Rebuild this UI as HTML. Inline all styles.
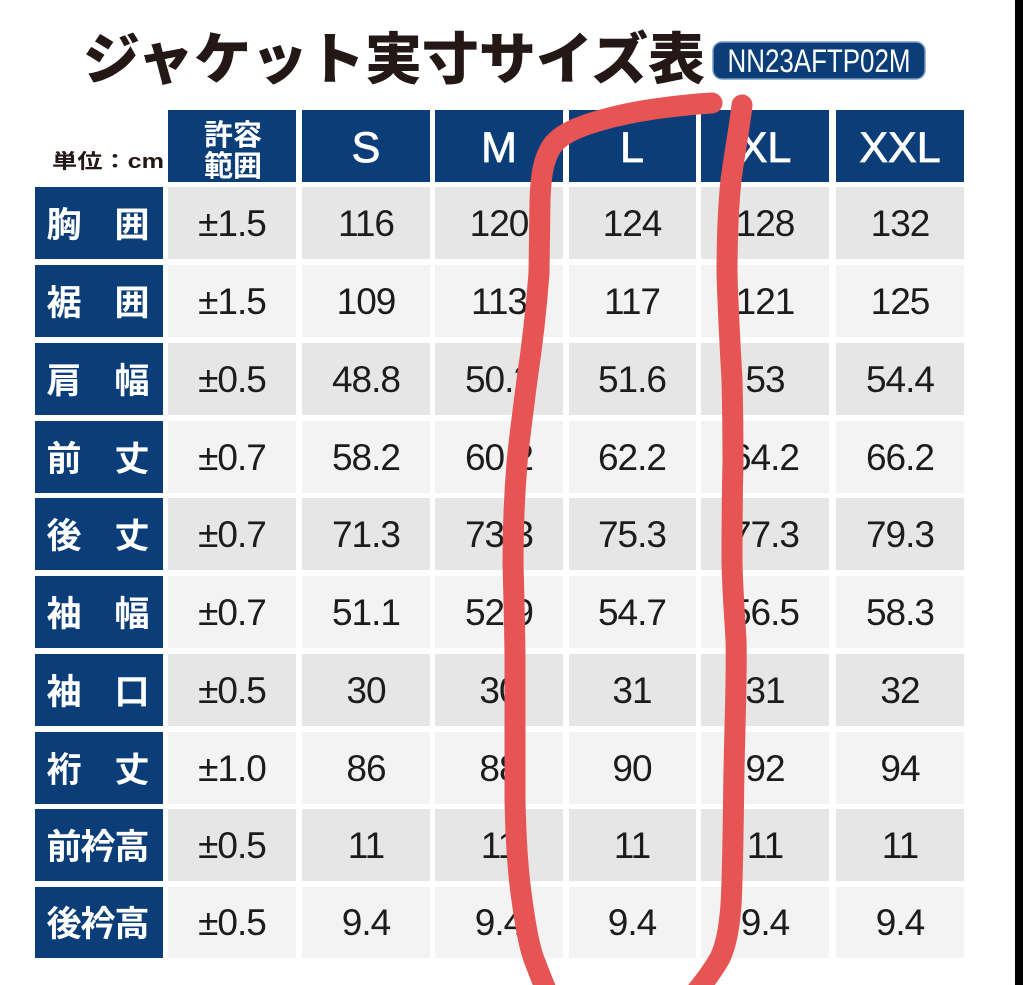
<!DOCTYPE html>
<html>
<head>
<meta charset="utf-8">
<style>
html,body{margin:0;padding:0;background:#fff;}
svg{display:block;}
.num{font-family:"Liberation Sans","Noto Sans CJK JP",sans-serif;font-size:37px;fill:#1c1c1c;text-anchor:middle;letter-spacing:-1px;}
.hd{font-family:"Liberation Sans",sans-serif;font-size:43px;fill:#fff;text-anchor:middle;stroke:#fff;stroke-width:0.8;}
.lab{font-family:"Liberation Sans","Noto Sans CJK JP",sans-serif;font-size:35px;font-weight:bold;fill:#fff;text-anchor:middle;}
</style>
</head>
<body>
<svg width="1023" height="985" viewBox="0 0 1023 985" xmlns="http://www.w3.org/2000/svg">
<rect x="0" y="0" width="1023" height="985" fill="#fff"/>
<rect x="1015" y="0" width="8" height="985" fill="#000"/>

<!-- Title -->
<text x="83" y="79" font-family="'Liberation Sans','Noto Sans CJK JP',sans-serif" font-size="56" font-weight="900" fill="#231815" textLength="622" lengthAdjust="spacingAndGlyphs">ジャケット実寸サイズ表</text>
<rect x="713" y="42" width="212" height="37" rx="9" fill="#0b3e78" stroke="#7d9cc4" stroke-width="1.5"/>
<text x="819" y="72" font-family="'Liberation Sans',sans-serif" font-size="32" fill="#fff" text-anchor="middle" textLength="183" lengthAdjust="spacingAndGlyphs">NN23AFTP02M</text>

<!-- Unit -->
<text x="52" y="168" font-family="'Liberation Sans','Noto Sans CJK JP',sans-serif" font-size="20" font-weight="bold" fill="#231815" textLength="112" lengthAdjust="spacingAndGlyphs">単位：cm</text>

<!-- Header cells -->
<g fill="#0b3e78">
<rect x="168" y="110" width="128" height="72"/>
<rect x="302" y="110" width="128" height="72"/>
<rect x="435" y="110" width="128" height="72"/>
<rect x="569" y="110" width="127" height="72"/>
<rect x="701" y="110" width="128" height="72"/>
<rect x="836" y="110" width="128" height="72"/>
</g>
<text x="233" y="145" class="lab" font-size="29" style="font-size:29px">許容</text>
<text x="233" y="176" class="lab" style="font-size:29px">範囲</text>
<text x="366" y="162" class="hd">S</text>
<text x="499" y="162" class="hd">M</text>
<text x="632" y="162" class="hd">L</text>
<text x="765" y="162" class="hd">XL</text>
<text x="900" y="162" class="hd">XXL</text>

<!-- Body rows -->
<g id="rows">
<!-- row 0 y=187 -->
<rect x="35" y="187" width="128" height="72" fill="#0b3e78"/>
<g fill="#e6e6e6"><rect x="168" y="187" width="128" height="72"/><rect x="302" y="187" width="128" height="72"/><rect x="435" y="187" width="128" height="72"/><rect x="569" y="187" width="127" height="72"/><rect x="701" y="187" width="128" height="72"/><rect x="836" y="187" width="128" height="72"/></g>
<!-- row 1 y=265 -->
<rect x="35" y="265" width="128" height="72" fill="#0b3e78"/>
<g fill="#f3f3f3"><rect x="168" y="265" width="128" height="72"/><rect x="302" y="265" width="128" height="72"/><rect x="435" y="265" width="128" height="72"/><rect x="569" y="265" width="127" height="72"/><rect x="701" y="265" width="128" height="72"/><rect x="836" y="265" width="128" height="72"/></g>
<!-- row 2 y=343 -->
<rect x="35" y="343" width="128" height="72" fill="#0b3e78"/>
<g fill="#e6e6e6"><rect x="168" y="343" width="128" height="72"/><rect x="302" y="343" width="128" height="72"/><rect x="435" y="343" width="128" height="72"/><rect x="569" y="343" width="127" height="72"/><rect x="701" y="343" width="128" height="72"/><rect x="836" y="343" width="128" height="72"/></g>
<!-- row 3 y=421 -->
<rect x="35" y="421" width="128" height="72" fill="#0b3e78"/>
<g fill="#f3f3f3"><rect x="168" y="421" width="128" height="72"/><rect x="302" y="421" width="128" height="72"/><rect x="435" y="421" width="128" height="72"/><rect x="569" y="421" width="127" height="72"/><rect x="701" y="421" width="128" height="72"/><rect x="836" y="421" width="128" height="72"/></g>
<!-- row 4 y=498 -->
<rect x="35" y="498" width="128" height="72" fill="#0b3e78"/>
<g fill="#e6e6e6"><rect x="168" y="498" width="128" height="72"/><rect x="302" y="498" width="128" height="72"/><rect x="435" y="498" width="128" height="72"/><rect x="569" y="498" width="127" height="72"/><rect x="701" y="498" width="128" height="72"/><rect x="836" y="498" width="128" height="72"/></g>
<!-- row 5 y=576 -->
<rect x="35" y="576" width="128" height="72" fill="#0b3e78"/>
<g fill="#f3f3f3"><rect x="168" y="576" width="128" height="72"/><rect x="302" y="576" width="128" height="72"/><rect x="435" y="576" width="128" height="72"/><rect x="569" y="576" width="127" height="72"/><rect x="701" y="576" width="128" height="72"/><rect x="836" y="576" width="128" height="72"/></g>
<!-- row 6 y=654 -->
<rect x="35" y="654" width="128" height="72" fill="#0b3e78"/>
<g fill="#e6e6e6"><rect x="168" y="654" width="128" height="72"/><rect x="302" y="654" width="128" height="72"/><rect x="435" y="654" width="128" height="72"/><rect x="569" y="654" width="127" height="72"/><rect x="701" y="654" width="128" height="72"/><rect x="836" y="654" width="128" height="72"/></g>
<!-- row 7 y=732 -->
<rect x="35" y="732" width="128" height="72" fill="#0b3e78"/>
<g fill="#f3f3f3"><rect x="168" y="732" width="128" height="72"/><rect x="302" y="732" width="128" height="72"/><rect x="435" y="732" width="128" height="72"/><rect x="569" y="732" width="127" height="72"/><rect x="701" y="732" width="128" height="72"/><rect x="836" y="732" width="128" height="72"/></g>
<!-- row 8 y=809 -->
<rect x="35" y="809" width="128" height="72" fill="#0b3e78"/>
<g fill="#e6e6e6"><rect x="168" y="809" width="128" height="72"/><rect x="302" y="809" width="128" height="72"/><rect x="435" y="809" width="128" height="72"/><rect x="569" y="809" width="127" height="72"/><rect x="701" y="809" width="128" height="72"/><rect x="836" y="809" width="128" height="72"/></g>
<!-- row 9 y=887 -->
<rect x="35" y="887" width="128" height="71" fill="#0b3e78"/>
<g fill="#f3f3f3"><rect x="168" y="887" width="128" height="71"/><rect x="302" y="887" width="128" height="71"/><rect x="435" y="887" width="128" height="71"/><rect x="569" y="887" width="127" height="71"/><rect x="701" y="887" width="128" height="71"/><rect x="836" y="887" width="128" height="71"/></g>
</g>

<!-- Row labels -->
<g class="lab">
<text x="64" y="237" class="lab">胸</text><text x="132" y="237" class="lab">囲</text>
<text x="64" y="315" class="lab">裾</text><text x="132" y="315" class="lab">囲</text>
<text x="64" y="393" class="lab">肩</text><text x="132" y="393" class="lab">幅</text>
<text x="64" y="471" class="lab">前</text><text x="132" y="471" class="lab">丈</text>
<text x="64" y="548" class="lab">後</text><text x="132" y="548" class="lab">丈</text>
<text x="64" y="626" class="lab">袖</text><text x="132" y="626" class="lab">幅</text>
<text x="64" y="704" class="lab">袖</text><text x="132" y="704" class="lab">口</text>
<text x="64" y="782" class="lab">裄</text><text x="132" y="782" class="lab">丈</text>
<text x="64" y="859" class="lab">前</text><text x="98" y="859" class="lab">衿</text><text x="132" y="859" class="lab">高</text>
<text x="64" y="936" class="lab">後</text><text x="98" y="936" class="lab">衿</text><text x="132" y="936" class="lab">高</text>
</g>

<!-- Numbers -->
<g>
<text class="num" x="232" y="236">±1.5</text><text class="num" x="366" y="236">116</text><text class="num" x="499" y="236">120</text><text class="num" x="632" y="236">124</text><text class="num" x="765" y="236">128</text><text class="num" x="900" y="236">132</text>
<text class="num" x="232" y="314">±1.5</text><text class="num" x="366" y="314">109</text><text class="num" x="499" y="314">113</text><text class="num" x="632" y="314">117</text><text class="num" x="765" y="314">121</text><text class="num" x="900" y="314">125</text>
<text class="num" x="232" y="392">±0.5</text><text class="num" x="366" y="392">48.8</text><text class="num" x="499" y="392">50.2</text><text class="num" x="632" y="392">51.6</text><text class="num" x="765" y="392">53</text><text class="num" x="900" y="392">54.4</text>
<text class="num" x="232" y="470">±0.7</text><text class="num" x="366" y="470">58.2</text><text class="num" x="499" y="470">60.2</text><text class="num" x="632" y="470">62.2</text><text class="num" x="765" y="470">64.2</text><text class="num" x="900" y="470">66.2</text>
<text class="num" x="232" y="547">±0.7</text><text class="num" x="366" y="547">71.3</text><text class="num" x="499" y="547">73.3</text><text class="num" x="632" y="547">75.3</text><text class="num" x="765" y="547">77.3</text><text class="num" x="900" y="547">79.3</text>
<text class="num" x="232" y="625">±0.7</text><text class="num" x="366" y="625">51.1</text><text class="num" x="499" y="625">52.9</text><text class="num" x="632" y="625">54.7</text><text class="num" x="765" y="625">56.5</text><text class="num" x="900" y="625">58.3</text>
<text class="num" x="232" y="703">±0.5</text><text class="num" x="366" y="703">30</text><text class="num" x="499" y="703">30</text><text class="num" x="632" y="703">31</text><text class="num" x="765" y="703">31</text><text class="num" x="900" y="703">32</text>
<text class="num" x="232" y="781">±1.0</text><text class="num" x="366" y="781">86</text><text class="num" x="499" y="781">88</text><text class="num" x="632" y="781">90</text><text class="num" x="765" y="781">92</text><text class="num" x="900" y="781">94</text>
<text class="num" x="232" y="858">±0.5</text><text class="num" x="366" y="858">11</text><text class="num" x="499" y="858">11</text><text class="num" x="632" y="858">11</text><text class="num" x="765" y="858">11</text><text class="num" x="900" y="858">11</text>
<text class="num" x="232" y="935">±0.5</text><text class="num" x="366" y="935">9.4</text><text class="num" x="499" y="935">9.4</text><text class="num" x="632" y="935">9.4</text><text class="num" x="765" y="935">9.4</text><text class="num" x="900" y="935">9.4</text>
</g>

<!-- Red marker loop -->
<g fill="none" stroke="#e65454" stroke-width="21" stroke-linecap="round" stroke-linejoin="round">
<path d="M712,103 C680,105 640,110 613,117 C585,124 562,132 552,146 C543,160 541,175 540,200 L539,273 C537,300 533,340 527,380 C522,420 519,440 517,463 C514,500 513,540 513,563 C514,600 515,640 515,663 L515,800 C516,850 519,880 522,900 C526,930 530,950 535,962 C540,975 544,985 547,992"/>
<path d="M742,105 C740,125 735,150 731,180 C728,210 727,240 727,273 C728,310 730,345 732,380 C733,420 733,440 733,463 C732,500 732,540 732,563 C733,600 735,620 736,640 C737,670 735,720 734,770 C733,830 733,870 731,905 C729,930 726,945 720,958 C712,972 704,982 696,992"/>
</g>
</svg>
</body>
</html>
